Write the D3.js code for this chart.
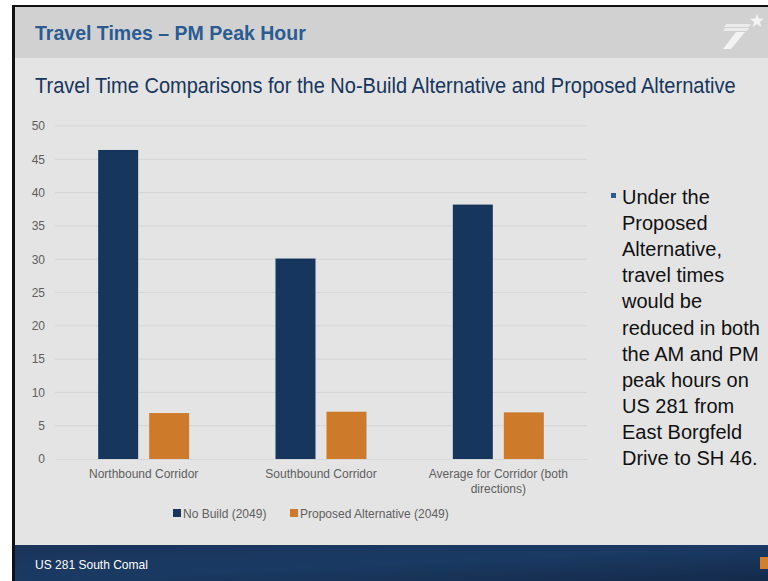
<!DOCTYPE html>
<html>
<head>
	<script src="https://d3js.org/d3.v7.min.js"></script>
	<style>
		body { margin: 0; background: #fff; }
		svg { display: block; }
	</style>
</head>
<body>
	<div class="chart"></div>
	<script>
		var categories = ["Northbound Corridor", "Southbound Corridor", "Average for Corridor (both directions)"];
		var seriesNames = ["No Build (2049)", "Proposed Alternative (2049)"];
		var noBuild = [46.4, 30.1, 38.2];
		var proposed = [6.9, 7.1, 7.0];
		var yTicks = [0, 5, 10, 15, 20, 25, 30, 35, 40, 45, 50];
		var bulletLines = ["Under the", "Proposed", "Alternative,", "travel times", "would be",
			"reduced in both", "the AM and PM", "peak hours on", "US 281 from", "East Borgfeld", "Drive to SH 46."];

		var w = 768, h = 581;
		var colors = ["#17365d", "#cd7b2b"];
		var svg = d3.select(".chart").append("svg").attr("width", w).attr("height", h);

		// squeeze a text horizontally so it spans a given width (condensed look)
		function condensed(parent, x, y, str, size, width, weight) {
			var t = parent.append("text").attr("x", 0).attr("y", 0).text(str)
				.attr("font-family", "Liberation Sans, Arial, sans-serif").attr("font-size", size)
				.attr("font-weight", weight || "normal");
			var sx = width / t.node().getComputedTextLength();
			t.attr("transform", "translate(" + x + "," + y + ") scale(" + sx + ",1)");
			return t;
		}

		// slide frame
		svg.append("rect").attr("x", 12).attr("y", 5).attr("width", w - 12).attr("height", h - 5).attr("fill", "#111");
		svg.append("rect").attr("x", 15).attr("y", 7).attr("width", w - 15).attr("height", h - 7).attr("fill", "#e4e4e4");
		svg.append("rect").attr("x", 15).attr("y", 7).attr("width", w - 15).attr("height", 51).attr("fill", "#d1d1d1");

		var grad = svg.append("defs").append("linearGradient").attr("id", "foot")
			.attr("x1", "0").attr("y1", "0").attr("x2", "1").attr("y2", "1");
		grad.append("stop").attr("offset", "0").attr("stop-color", "#1b355c");
		grad.append("stop").attr("offset", "0.5").attr("stop-color", "#1a3a63");
		grad.append("stop").attr("offset", "1").attr("stop-color", "#142a4a");
		svg.append("rect").attr("x", 15).attr("y", 545).attr("width", w - 15).attr("height", 36).attr("fill", "url(#foot)");
		svg.append("rect").attr("x", 760).attr("y", 557).attr("width", 8).attr("height", 12).attr("fill", "#d0802e");
		condensed(svg, 35, 569, "US 281 South Comal", 13, 113).attr("fill", "#fff");

		// logo
		var logo = svg.append("g").attr("fill", "#f3f3f3");
		logo.append("polygon").attr("points", "736,32 745,32 731,49 723,49");
		logo.append("polygon").attr("points", "726,24 751,24 749,27 724,27").attr("opacity", 0.75);
		logo.append("polygon").attr("points", "725,28 749,28 747,31 723,31").attr("opacity", 0.75);
		var star = d3.range(10).map(function(i) {
			var r = i % 2 ? 3 : 7.5, a = -Math.PI / 2 + i * Math.PI / 5;
			return [757 + r * Math.cos(a), 21 + r * Math.sin(a)];
		});
		logo.append("polygon").attr("points", star.join(" "));

		// titles
		condensed(svg, 35, 40, "Travel Times \u2013 PM Peak Hour", 20, 271, "bold").attr("fill", "#2a5b91");
		condensed(svg, 35, 93, "Travel Time Comparisons for the No-Build Alternative and Proposed Alternative", 22, 701)
			.attr("fill", "#17365d");

		// chart
		var x0 = d3.scaleBand().domain(categories).range([55, 587]);
		var x1 = d3.scaleBand().domain(seriesNames).range([0, 91]).paddingInner(0.216);
		var y = d3.scaleLinear().domain([0, 50]).range([459, 126]);
		var g = svg.append("g");

		g.selectAll(".grid").data(yTicks.slice(1)).enter().append("line")
			.attr("x1", 55).attr("x2", 587)
			.attr("y1", function(d) { return y(d); }).attr("y2", function(d) { return y(d); })
			.attr("stroke", "#d6d6d6").attr("stroke-width", 1);

		var yAxis = g.append("g").attr("transform", "translate(45,0)")
			.call(d3.axisLeft(y).tickValues(yTicks).tickSize(0).tickPadding(0));
		yAxis.select(".domain").remove();
		yAxis.selectAll("text").attr("font-family", "Liberation Sans, Arial, sans-serif")
			.attr("font-size", 12).attr("fill", "#5f5f5f");

		var rows = categories.map(function(c, i) { return { cat: c, vals: [noBuild[i], proposed[i]] }; });
		var groups = g.selectAll(".grp").data(rows).enter().append("g")
			.attr("transform", function(d) { return "translate(" + (x0(d.cat) + (x0.bandwidth() - 91) / 2) + ",0)"; });
		groups.selectAll("rect").data(function(d) {
			return d.vals.map(function(v, j) { return { name: seriesNames[j], v: v, j: j }; });
		}).enter().append("rect")
			.attr("x", function(d) { return x1(d.name); })
			.attr("width", x1.bandwidth())
			.attr("y", function(d) { return y(d.v); })
			.attr("height", function(d) { return y(0) - y(d.v); })
			.attr("fill", function(d) { return colors[d.j]; });

		var xAxis = g.append("g").attr("transform", "translate(0,459)")
			.call(d3.axisBottom(x0).tickSize(0).tickPadding(10));
		xAxis.select(".domain").attr("stroke", "#d6d6d6");
		xAxis.selectAll(".tick text").attr("font-family", "Liberation Sans, Arial, sans-serif")
			.attr("font-size", 12).attr("fill", "#5f5f5f")
			.each(function(d) {
				var t = d3.select(this);
				if (d.length > 25) {
					t.text(null);
					t.append("tspan").attr("x", 0).attr("dy", "0.71em").text("Average for Corridor (both");
					t.append("tspan").attr("x", 0).attr("dy", "1.25em").text("directions)");
					t.attr("dy", null);
				}
			});

		// legend
		var legX = [173, 290];
		var leg = g.selectAll(".leg").data(seriesNames).enter().append("g")
			.attr("transform", function(d, i) { return "translate(" + legX[i] + ",509)"; });
		leg.append("rect").attr("width", 8).attr("height", 8).attr("fill", function(d, i) { return colors[i]; });
		leg.append("text").attr("x", 10).attr("y", 9).text(function(d) { return d; })
			.attr("font-family", "Liberation Sans, Arial, sans-serif").attr("font-size", 12).attr("fill", "#5f5f5f");

		// bullet text
		svg.append("rect").attr("x", 611).attr("y", 193).attr("width", 5).attr("height", 5).attr("fill", "#2a5b91");
		svg.append("g").selectAll("text").data(bulletLines).enter().append("text")
			.attr("x", 622).attr("y", function(d, i) { return 204 + i * 26.1; })
			.text(function(d) { return d; })
			.attr("font-family", "Liberation Sans, Arial, sans-serif").attr("font-size", 20).attr("fill", "#111");
	</script>
</body>
</html>
